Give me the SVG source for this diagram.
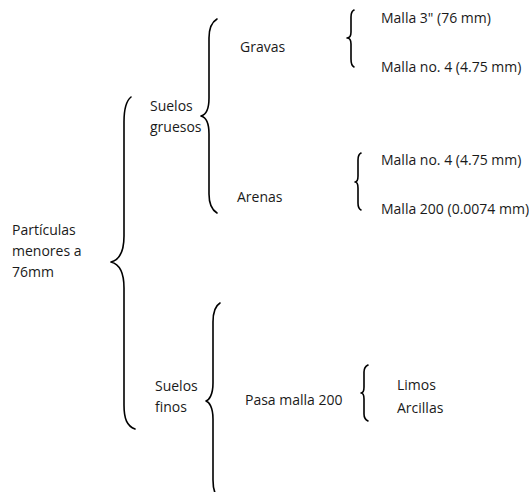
<svg xmlns="http://www.w3.org/2000/svg" width="529" height="492" viewBox="0 0 529 492">
<style>
  text { font-family: "Open Sans", "Liberation Sans", sans-serif; font-size: 14px; fill: #1a1a1a; }
  .brace { fill: none; stroke: #000; stroke-width: 1.6; stroke-linecap: round; stroke-linejoin: round; }
</style>
<rect width="529" height="492" fill="#fff"/>
<g id="connectors">
  <path class="brace" d="M131,97 C126,101 124,108 124,122 L124,236 C124,252 119,260 111,262 C119,264 124,272 124,288 L124,405 C124,419 127,426 135,429"/>
  <path class="brace" d="M217,19 C212,22 209,28 209,38 L209,98 C209,110 205,115 201,116 C205,117 209,122 209,134 L209,194 C209,204 212,210 217,213"/>
  <path class="brace" d="M220,303 C215,306 213,312 213,322 L213,383 C213,395 209,400 206,401 C209,402 213,407 213,419 L213,480 C213,490 215,496 220,499"/>
  <path class="brace" d="M354,10 C352,11 351,13 351,17 L351,32 C351,36 349,38 347,38 C349,38 351,40 351,44 L351,59 C351,63 352,66 354,67"/>
  <path class="brace" d="M361,153 C359,154 358,156 358,160 L358,176 C358,180 357,182 355,182 C357,182 358,184 358,188 L358,203 C358,207 359,209 361,210"/>
  <path class="brace" d="M368,365 C366,366 364,368 364,372 L364,387 C364,391 363,393 361,393 C363,393 364,395 364,399 L364,414 C364,418 366,420 368,421"/>
</g>
<g id="node-particulas">
  <text x="12" y="235">Partículas</text>
  <text x="12" y="256">menores a</text>
  <text x="12" y="277">76mm</text>
</g>
<g id="node-suelos-gruesos">
  <text x="150" y="111">Suelos</text>
  <text x="150" y="132">gruesos</text>
</g>
<g id="node-suelos-finos">
  <text x="155" y="391">Suelos</text>
  <text x="155" y="412">finos</text>
</g>
<g id="node-gravas"><text x="240" y="52">Gravas</text></g>
<g id="node-arenas"><text x="237" y="202">Arenas</text></g>
<g id="node-pasa-malla"><text x="245" y="405">Pasa malla 200</text></g>
<g id="node-gravas-limits">
  <text x="381" y="23">Malla 3" (76 mm)</text>
  <text x="381" y="72">Malla no. 4 (4.75 mm)</text>
</g>
<g id="node-arenas-limits">
  <text x="381" y="165">Malla no. 4 (4.75 mm)</text>
  <text x="381" y="214">Malla 200 (0.0074 mm)</text>
</g>
<g id="node-finos-types">
  <text x="397" y="390">Limos</text>
  <text x="397" y="413">Arcillas</text>
</g>
</svg>
